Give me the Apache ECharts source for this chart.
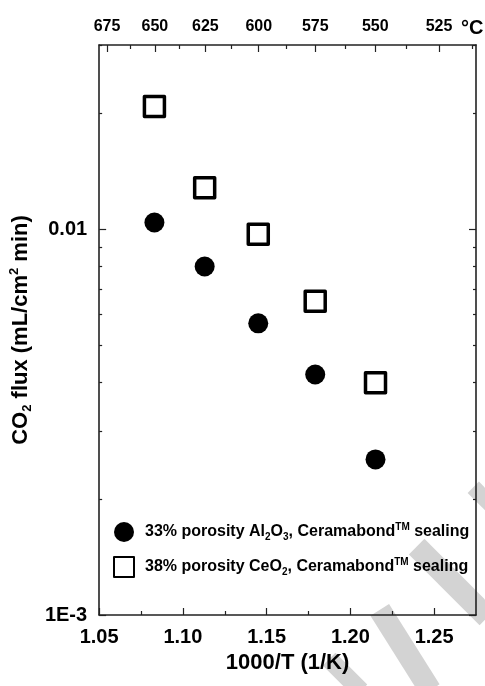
<!DOCTYPE html>
<html>
<head>
<meta charset="utf-8">
<script src="https://cdn.jsdelivr.net/npm/echarts@6/dist/echarts.min.js"></script>
<style>
  html, body { margin: 0; padding: 0; background: #fff; }
  #chart { width: 485px; height: 686px; }
</style>
</head>
<body>
<div id="chart"></div>
<script>
// values
let xVals = [1.083, 1.113, 1.145, 1.179, 1.215];
let al2o3Flux = [0.0104, 0.0080, 0.0057, 0.0042, 0.00253];
let ceo2Flux = [0.0208, 0.0128, 0.0097, 0.0065, 0.0040];

let seriesNames = ['33% porosity Al2O3, Ceramabond sealing', '38% porosity CeO2, Ceramabond sealing'];
let legendLabels = [
    '{t|33% porosity Al}{sub|2}{t|O}{sub|3}{t|, Ceramabond}{sup|TM}{t| sealing}',
    '{t|38% porosity CeO}{sub|2}{t|, Ceramabond}{sup|TM}{t| sealing}'
];

// tick labels
let xMajorTicks = [1.05, 1.10, 1.15, 1.20, 1.25];
let xMinorTicks = [1.075, 1.125, 1.175, 1.225];
let tempMajor = [675, 650, 625, 600, 575, 550, 525];
let tempMinor = [662.5, 637.5, 612.5, 587.5, 562.5, 537.5, 512.5];
let yMajor = [0.001, 0.01];
let yMajorLabels = ['1E-3', '0.01'];
let yMinor = [0.002, 0.003, 0.004, 0.005, 0.006, 0.007, 0.008, 0.009, 0.02, 0.03];

const FONT = '"Liberation Sans", Arial, sans-serif';
const X_MIN = 1.05, X_MAX = 1.275;
const Y_MIN = 0.001, Y_MAX = 0.03;

function toInvK(t){
    return 1000 / (t + 273.15);
}

function pairs(ys){
    let out = [];
    for(let i = 0;i<xVals.length;i++){
        out.push([xVals[i], ys[i]]);
    }
    return out;
}

function xAxisDef(pos, ticks, len, line, label){
    return {
        type: 'value', position: pos, min: X_MIN, max: X_MAX,
        axisLine: {show: line, onZero: false, lineStyle: {color: '#222', width: 1.6}},
        axisTick: {show: true, inside: true, length: len, customValues: ticks, lineStyle: {color: '#222', width: 1.2}},
        axisLabel: label || {show: false},
        splitLine: {show: false}
    };
}

function yAxisDef(pos, ticks, len, line, label){
    return {
        type: 'log', logBase: 10, position: pos, min: Y_MIN, max: Y_MAX,
        axisLine: {show: line, onZero: false, lineStyle: {color: '#222', width: 1.6}},
        axisTick: {show: true, inside: true, length: len, customValues: ticks, lineStyle: {color: '#222', width: 1.2}},
        axisLabel: label || {show: false},
        splitLine: {show: false},
        minorTick: {show: false}
    };
}

// grey watermark strokes in the lower right corner
function band(cx, cy, len, w, ang){
    return {
        type: 'rect', x: cx, y: cy, rotation: ang, z: -10, silent: true,
        shape: {x: -len / 2, y: -w / 2, width: len, height: w},
        style: {fill: '#d3d3d3'}
    };
}

function setChart(){
    let myChart = echarts.init(document.getElementById('chart'));

    let topTicks = tempMajor.map(toInvK);
    let topMinor = tempMinor.map(toInvK);

    let option = {
        animation: false,
        textStyle: {fontFamily: FONT},
        grid: {left: 96, right: 9, top: 45, bottom: 71},
        xAxis: [
            Object.assign(xAxisDef('bottom', xMajorTicks, 7, true, {
                show: true, customValues: xMajorTicks, margin: 12,
                fontSize: 20, fontWeight: 'bold', color: '#000', fontFamily: FONT,
                formatter: function(v){ return v.toFixed(2); }
            }), {
                name: '1000/T (1/K)', nameLocation: 'middle', nameGap: 36,
                nameTextStyle: {fontSize: 22, fontWeight: 'bold', color: '#000', fontFamily: FONT}
            }),
            xAxisDef('bottom', xMinorTicks, 4, false),
            xAxisDef('top', topTicks, 7, true, {
                show: true, customValues: topTicks, margin: 10,
                fontSize: 16, fontWeight: 'bold', color: '#000', fontFamily: FONT,
                formatter: function(v){ return String(Math.round(1000 / v - 273.15)); }
            }),
            xAxisDef('top', topMinor, 4, false)
        ],
        yAxis: [
            Object.assign(yAxisDef('left', yMajor, 7, true, {
                show: true, customValues: yMajor, margin: 12,
                fontSize: 20, fontWeight: 'bold', color: '#000', fontFamily: FONT,
                formatter: function(v){
                    let lg = Math.round(Math.log10(v));
                    for(let i = 0;i<yMajor.length;i++){
                        if(Math.round(Math.log10(yMajor[i])) === lg){
                            return yMajorLabels[i];
                        }
                    }
                    return '';
                }
            }), {
                name: '{t|CO}{sub|2}{t| flux (mL/cm}{sup|2}{t| min)}',
                nameLocation: 'middle', nameGap: 52,
                nameTextStyle: {
                    fontSize: 22, fontWeight: 'bold', color: '#000', fontFamily: FONT,
                    rich: {
                        t: {fontSize: 22, fontWeight: 'bold', color: '#000', fontFamily: FONT, lineHeight: 26},
                        sub: {fontSize: 13, fontWeight: 'bold', color: '#000', fontFamily: FONT, verticalAlign: 'bottom', lineHeight: 26, padding: [10, 0, 0, 0]},
                        sup: {fontSize: 13, fontWeight: 'bold', color: '#000', fontFamily: FONT, verticalAlign: 'top', lineHeight: 26, padding: [0, 0, 10, 0]}
                    }
                }
            }),
            yAxisDef('left', yMinor, 3, false),
            yAxisDef('right', yMajor, 7, true),
            yAxisDef('right', yMinor, 3, false)
        ],
        legend: {
            orient: 'vertical',
            left: 108, top: 517,
            itemWidth: 20, itemHeight: 20, itemGap: 14,
            data: seriesNames,
            formatter: function(name){
                return legendLabels[seriesNames.indexOf(name)];
            },
            textStyle: {
                fontSize: 16, fontWeight: 'bold', color: '#000', fontFamily: FONT,
                padding: [0, 0, 0, 6],
                rich: {
                    t: {fontSize: 16, fontWeight: 'bold', color: '#000', fontFamily: FONT, lineHeight: 20},
                    sub: {fontSize: 10, fontWeight: 'bold', color: '#000', fontFamily: FONT, verticalAlign: 'bottom', lineHeight: 20, padding: [8, 0, 0, 0]},
                    sup: {fontSize: 10, fontWeight: 'bold', color: '#000', fontFamily: FONT, verticalAlign: 'top', lineHeight: 20, padding: [0, 0, 8, 0]}
                }
            }
        },
        graphic: [
            band(452, 582, 100, 22, -Math.PI / 4),
            band(405, 650, 95, 22, -1.01),
            band(345, 675, 45, 18, -Math.PI / 4),
            band(486, 500, 36, 16, -Math.PI / 4),
            {
                type: 'text', left: 461, top: 18,
                style: {text: '°C', fontSize: 20, fontWeight: 'bold', fill: '#000', fontFamily: FONT}
            }
        ],
        series: [{
            name: seriesNames[0],
            type: 'scatter',
            symbol: 'circle',
            symbolSize: 20,
            itemStyle: {color: '#000', opacity: 1},
            data: pairs(al2o3Flux)
        },{
            name: seriesNames[1],
            type: 'scatter',
            symbol: 'rect',
            symbolSize: 20,
            itemStyle: {color: '#fff', borderColor: '#000', borderWidth: 3.5, borderJoin: 'round', opacity: 1},
            data: pairs(ceo2Flux)
        }]
    };

    myChart.setOption(option);
}

window.onload = function (){
    setChart();
}
</script>
</body>
</html>
